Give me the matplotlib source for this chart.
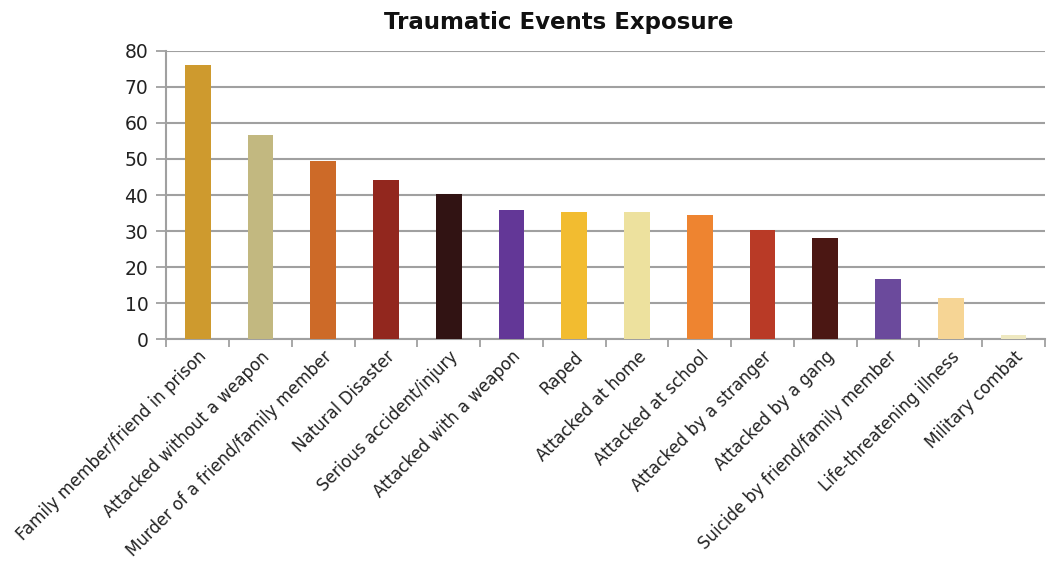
import matplotlib
matplotlib.use("Agg")
import matplotlib.pyplot as plt
import numpy as np

categories = [
    "Family member/friend in prison",
    "Attacked without a weapon",
    "Murder of a friend/family member",
    "Natural Disaster",
    "Serious accident/injury",
    "Attacked with a weapon",
    "Raped",
    "Attacked at home",
    "Attacked at school",
    "Attacked by a stranger",
    "Attacked by a gang",
    "Suicide by friend/family member",
    "Life-threatening illness",
    "Military combat",
]
values = [76.0, 56.6, 49.4, 44.1, 40.4, 35.8, 35.4, 35.4, 34.5, 30.3, 28.1, 16.6, 11.4, 1.1]
colors = ["#CE9A2E", "#C2B880", "#CD6A28", "#92271E", "#311313", "#633797", "#F2BC30",
          "#EDE19E", "#EE8430", "#B93A26", "#4B1713", "#6B4A9C", "#F6D595", "#EEE8C0"]
yticks = [0, 10, 20, 30, 40, 50, 60, 70, 80]
title = "Traumatic Events Exposure"

plt.rcParams['font.family'] = ['DejaVu Sans']

fig = plt.figure(figsize=(10.47, 5.68), dpi=100)
ax = fig.add_axes([0.159, 0.4026, 0.839, 0.5081])

x = np.arange(len(categories))
ax.bar(x, values, width=0.41, color=colors, zorder=3)

ax.set_xlim(-0.5, len(categories) - 0.5)
ax.set_ylim(0, 80)
ax.set_yticks(yticks)
ax.set_yticklabels([str(v) for v in yticks], fontsize=13.5, color="#222222")
ax.grid(axis='y', color="#a0a0a0", linewidth=1.5, zorder=0)
ax.set_axisbelow(True)

ax.set_xticks(np.arange(len(categories) + 1) - 0.5)
ax.set_xticklabels([])
ax.set_xticks(x, minor=True)
ax.set_xticklabels(categories, minor=True, rotation=45, ha='right', va='top',
                   rotation_mode='anchor', fontsize=12, color="#222222")
ax.tick_params(axis='x', which='minor', length=0, pad=6)
ax.tick_params(axis='x', which='major', length=6, color="#a0a0a0", width=1.3)
ax.tick_params(axis='y', length=7, color="#a0a0a0", width=1.3, pad=6)

for s in ['top', 'right']:
    ax.spines[s].set_visible(False)
for s in ['left', 'bottom']:
    ax.spines[s].set_color("#a0a0a0")
    ax.spines[s].set_linewidth(1.5)

fig.text(0.534, 0.96, title, ha='center', va='center', fontsize=16.5, fontweight='bold', color="#111111")

fig.savefig("out.png", dpi=100, facecolor="white")
